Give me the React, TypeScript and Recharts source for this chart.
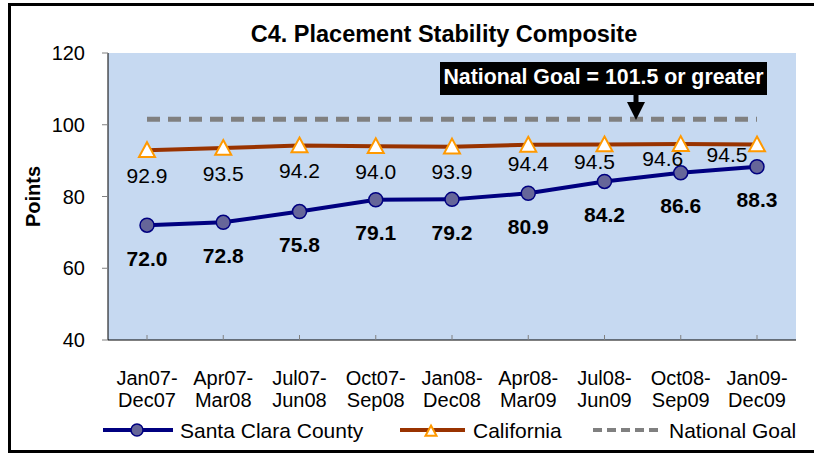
import React from 'react';
import { LineChart, Line, XAxis, YAxis, CartesianGrid, Legend, LabelList } from 'recharts';

const FONT = '"Liberation Sans", Arial, sans-serif';
const NAVY = '#000080';
const DOT_FILL = '#666699';
const BROWN = '#993300';
const ORANGE = '#FF9900';
const GOAL_GRAY = '#808080';
const PLOT_BG = '#C6D9F1';

/* ─── Data ─────────────────────────────────────────── */
const periods = [
  'Jan07-Dec07', 'Apr07-Mar08', 'Jul07-Jun08', 'Oct07-Sep08', 'Jan08-Dec08',
  'Apr08-Mar09', 'Jul08-Jun09', 'Oct08-Sep09', 'Jan09-Dec09',
];
const santaClara = [72.0, 72.8, 75.8, 79.1, 79.2, 80.9, 84.2, 86.6, 88.3];
const california = [92.9, 93.5, 94.2, 94.0, 93.9, 94.4, 94.5, 94.6, 94.5];
const nationalGoal = [101.5, 101.5, 101.5, 101.5, 101.5, 101.5, 101.5, 101.5, 101.5];
const yTicks = [40, 60, 80, 100, 120];

const data = periods.map((period, i) => ({
  period,
  sc: santaClara[i],
  ca: california[i],
  goal: nationalGoal[i],
}));

// hand-placed label nudges for the California values (dx, dy from the marker)
const caLabelNudge: [number, number][] = [
  [0, 25], [0, 25], [0, 25], [0, 25], [0, 25], [0, 19], [-10, 17], [-18, 14], [-30, 10],
];

/* ─── Marks ────────────────────────────────────────── */
const Triangle = ({ cx, cy, s = 8 }: { cx: number; cy: number; s?: number }) => (
  <polygon
    points={`${cx},${cy - s} ${cx + s},${cy + s * 0.85} ${cx - s},${cy + s * 0.85}`}
    fill="#fff" stroke={ORANGE} strokeWidth={2}
  />
);

const PeriodTick = (props: any) => {
  const { x, y, payload } = props;
  const v: string = payload.value;
  const cut = v.indexOf('-') + 1;
  return (
    <g>
      <line x1={x} x2={x} y1={y - 5} y2={y} stroke={GOAL_GRAY} />
      <text x={x} y={y + 45} textAnchor="middle" fontSize={20} fontFamily={FONT} fill="#000">{v.slice(0, cut)}</text>
      <text x={x} y={y + 67} textAnchor="middle" fontSize={20} fontFamily={FONT} fill="#000">{v.slice(cut)}</text>
    </g>
  );
};

const LegendBar = () => (
  <svg width={814} height={30} style={{ display: 'block' }}>
    <line x1={103} x2={173} y1={15} y2={15} stroke={NAVY} strokeWidth={4} />
    <circle cx={137} cy={15} r={6} fill={DOT_FILL} stroke={NAVY} strokeWidth={1.5} />
    <text x={180} y={22.5} fontSize={21} fontFamily={FONT} fill="#000">Santa Clara County</text>

    <line x1={400} x2={465} y1={15} y2={15} stroke={BROWN} strokeWidth={4} />
    <Triangle cx={431} cy={16} s={5.5} />
    <text x={473} y={22.5} fontSize={21} fontFamily={FONT} fill="#000">California</text>

    <line x1={593} x2={662} y1={15} y2={15} stroke={GOAL_GRAY} strokeWidth={4} strokeDasharray="9 5" />
    <text x={669} y={22.5} fontSize={21} fontFamily={FONT} fill="#000">National Goal</text>
  </svg>
);

export default function App() {
  return (
    <div style={{ position: 'absolute', left: 0, top: 0, width: 814, height: 454, overflow: 'hidden', background: '#fff', fontFamily: FONT }}>
      <div style={{ position: 'absolute', left: 0, top: 0 }}>
        <LineChart width={814} height={454} data={data} margin={{ top: 53, right: 18, left: 0, bottom: 9 }}>
          <CartesianGrid fill={PLOT_BG} fillOpacity={1} horizontal={false} vertical={false} stroke="none" />
          <XAxis
            dataKey="period" interval={0} padding={{ left: 39, right: 39 }}
            height={75} tickSize={0} tickMargin={0} tickLine={false}
            axisLine={{ stroke: '#000', strokeWidth: 1 }} tick={<PeriodTick />}
          />
          <YAxis
            domain={[40, 120]} ticks={yTicks} width={108} tickSize={6} tickMargin={17}
            axisLine={{ stroke: '#000', strokeWidth: 1 }} tickLine={{ stroke: GOAL_GRAY }}
            tick={{ fontSize: 20, fill: '#000', fontFamily: FONT }}
            label={(p: any) => {
              const vb = p.viewBox;
              const cx = vb.x + 33;
              const cy = vb.y + vb.height / 2;
              return (
                <text x={cx} y={cy} transform={`rotate(-90 ${cx} ${cy})`} textAnchor="middle" dominantBaseline="central"
                  fontSize={20} fontWeight="bold" fontFamily={FONT} fill="#000">Points</text>
              );
            }}
          />
          <Legend verticalAlign="bottom" align="left" width={814} wrapperStyle={{ left: 0 }} content={() => <LegendBar />} />

          <Line dataKey="goal" name="National Goal" stroke={GOAL_GRAY} strokeWidth={5} strokeDasharray="13 8"
            dot={false} activeDot={false} isAnimationActive={false} />
          <Line dataKey="ca" name="California" stroke={BROWN} strokeWidth={4}
            dot={(p: any) => <Triangle key={`ca-${p.index}`} cx={p.cx} cy={p.cy} />}
            activeDot={false} isAnimationActive={false}>
            <LabelList dataKey="ca" content={(p: any) => {
              const [dx, dy] = caLabelNudge[p.index] || [0, 25];
              return (
                <text x={p.x + dx} y={p.y + dy + 7.5} textAnchor="middle" fontSize={21} fontFamily={FONT} fill="#000">
                  {Number(p.value).toFixed(1)}
                </text>
              );
            }} />
          </Line>
          <Line dataKey="sc" name="Santa Clara County" stroke={NAVY} strokeWidth={4}
            dot={{ r: 7, fill: DOT_FILL, stroke: NAVY, strokeWidth: 1.5 }}
            activeDot={false} isAnimationActive={false}>
            <LabelList dataKey="sc" content={(p: any) => (
              <text x={p.x} y={p.y + 33 + 7.5} textAnchor="middle" fontSize={21} fontWeight="bold" fontFamily={FONT} fill="#000">
                {Number(p.value).toFixed(1)}
              </text>
            )} />
          </Line>
        </LineChart>
      </div>

      {/* frame, title and goal call-out */}
      <svg width={814} height={454} style={{ position: 'absolute', left: 0, top: 0, pointerEvents: 'none' }}>
        <rect x={9.5} y={4.5} width={900} height={447} fill="none" stroke="#000" strokeWidth={3} />
        <text x={444} y={42} textAnchor="middle" fontSize={23.5} fontWeight="bold" fontFamily={FONT} fill="#000">
          C4. Placement Stability Composite
        </text>
        <rect x={440} y={62} width={327} height={33} fill="#000" />
        <text x={603.5} y={83.5} textAnchor="middle" fontSize={21.3} fontWeight="bold" fontFamily={FONT} fill="#fff">
          National Goal = 101.5 or greater
        </text>
        <rect x={633.5} y={94} width={5} height={10} fill="#000" />
        <polygon points="627,102 645,102 636,120" fill="#000" />
      </svg>
    </div>
  );
}
